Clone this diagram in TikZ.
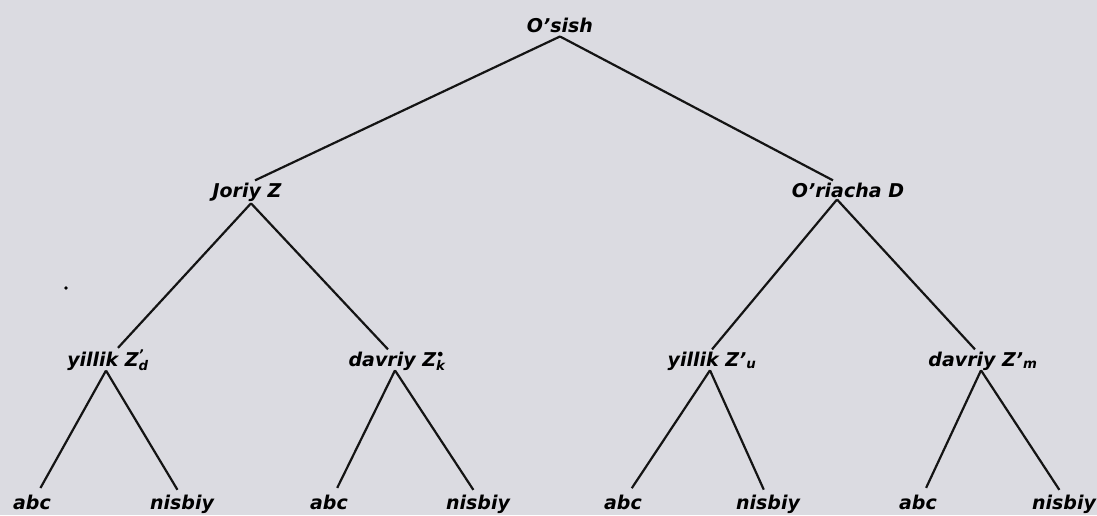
\documentclass[tikz,border=0pt]{standalone}
\usepackage{fontspec}
\setmainfont{DejaVu Sans}
\begin{document}
\begin{tikzpicture}[x=1pt,y=-1pt,
  lbl/.style={inner sep=2pt, anchor=base, font=\fontsize{19}{21}\selectfont\bfseries\itshape},
  edge/.style={line width=2.2pt, black!92}]
\definecolor{paper}{RGB}{219,219,225}
\fill[paper] (0,0) rectangle (1097,515);
\useasboundingbox (0,0) rectangle (1097,515);
\newcommand{\lsub}[1]{\textsubscript{#1}}
\newcommand{\lsup}[1]{\textsuperscript{#1}}
% level 0
\node[lbl] (root) at (560,32) {O'sish};
% level 1
\node[lbl] (jz) at (247,197) {Joriy Z};
\node[lbl] (od) at (848,197) {O'riacha D};
% level 2
\node[lbl] (y1) at (108,366) {yillik Z\rlap{\lsup{'}}\lsub{d}};
\node[lbl] (d1) at (397,366) {davriy Z\rlap{\lsup{•}}\lsub{k}};
\node[lbl] (y2) at (712,366) {yillik Z'\lsub{u}};
\node[lbl] (d2) at (983,366) {davriy Z'\lsub{m}};
% leaves
\node[lbl] (a1) at (32,509) {abc};
\node[lbl] (n1) at (182,509) {nisbiy};
\node[lbl] (a2) at (329,509) {abc};
\node[lbl] (n2) at (478,509) {nisbiy};
\node[lbl] (a3) at (623,509) {abc};
\node[lbl] (n3) at (768,509) {nisbiy};
\node[lbl] (a4) at (918,509) {abc};
\node[lbl] (n4) at (1064,509) {nisbiy};
% stray speck
\fill (66,288) circle (1.8);
% edges
\draw[edge] ([yshift=-2pt]root.south) -- ([xshift=8pt]jz.north);
\draw[edge] ([yshift=-2pt]root.south) -- ([xshift=-15pt]od.north);
\draw[edge] ([xshift=4pt]jz.south) -- ([xshift=10pt]y1.north);
\draw[edge] ([xshift=4pt]jz.south) -- ([xshift=-9pt]d1.north);
\draw[edge] ([xshift=-11pt]od.south) -- (y2.north);
\draw[edge] ([xshift=-11pt]od.south) -- ([xshift=-8pt]d2.north);
\foreach \p/\l/\r in {y1/a1/n1, d1/a2/n2, y2/a3/n3, d2/a4/n4}{
  \draw[edge, shorten >=5pt] ([xshift=-2pt,yshift=2pt]\p.south) -- ([xshift=6pt]\l.north);
  \draw[edge, shorten >=3pt] ([xshift=-2pt,yshift=2pt]\p.south) -- ([xshift=-3pt]\r.north);
}
\end{tikzpicture}
\end{document}
